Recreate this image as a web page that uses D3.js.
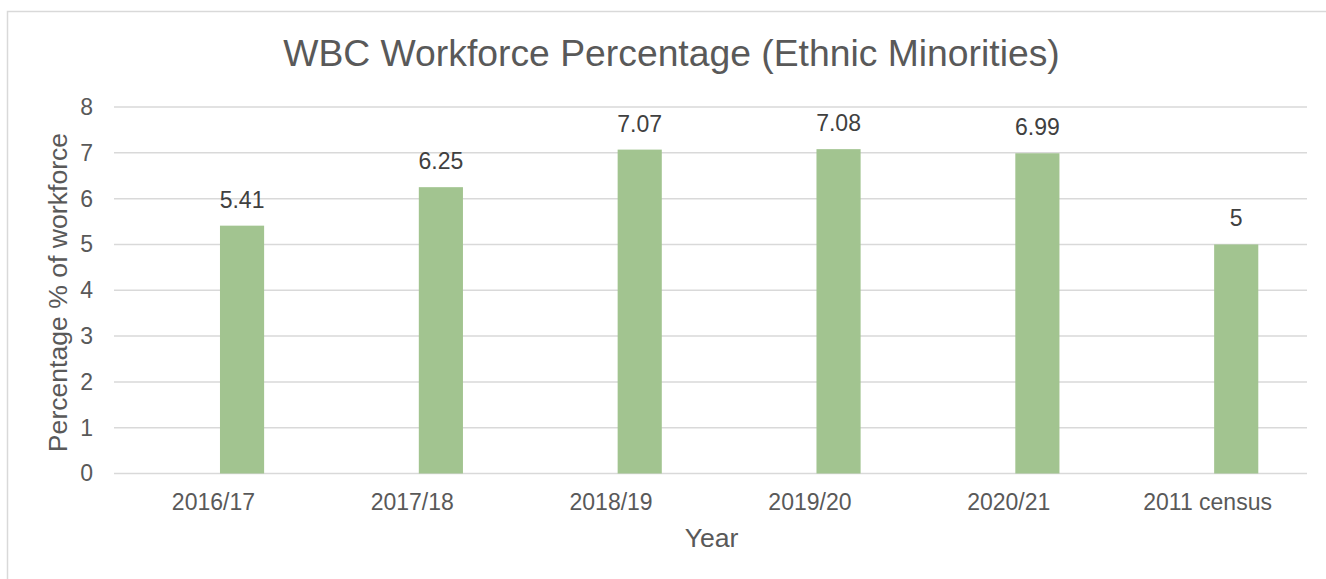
<!DOCTYPE html>
<html>
<head>
<meta charset="UTF-8" />
<title>WBC Workforce Percentage</title>
<script src="https://d3js.org/d3.v7.min.js"></script>
<style>
body { margin: 0; background: white; }
svg text { font-family: "Liberation Sans", Arial, sans-serif; }
</style>
</head>
<body>
<svg id="chart" width="1326" height="579"></svg>
<script>
// chart data
var years = ['2016/17', '2017/18', '2018/19', '2019/20', '2020/21', '2011 census'];
var percents = [5.41, 6.25, 7.07, 7.08, 6.99, 5];
var yTicks = [0, 1, 2, 3, 4, 5, 6, 7, 8];

var svg = d3.select("#chart");
var plotLeft = 114, plotRight = 1307, plotTop = 107, plotBottom = 473.5;

// outer frame
svg.append("rect").attr("x", 7.5).attr("y", 11.5).attr("width", 1340).attr("height", 600)
    .attr("fill", "white").attr("stroke", "#d9d9d9").attr("stroke-width", 1.5);

var x = d3.scaleBand().domain(years).range([plotLeft, plotRight]);
var y = d3.scaleLinear().domain([0, 8]).range([plotBottom, plotTop]);

// gridlines
svg.append("g").selectAll("line").data(yTicks).enter().append("line")
    .attr("x1", plotLeft).attr("x2", plotRight)
    .attr("y1", function(d) { return y(d); }).attr("y2", function(d) { return y(d); })
    .attr("stroke", "#d9d9d9").attr("stroke-width", 1.5);

// y axis labels
var yAxis = svg.append("g").attr("transform", "translate(" + plotLeft + ",0)")
    .call(d3.axisLeft(y).tickValues(yTicks).tickSize(0).tickPadding(21));
yAxis.select(".domain").remove();
yAxis.selectAll("text").attr("font-size", 23).attr("fill", "#595959")
    .attr("font-family", "'Liberation Sans', Arial, sans-serif");

// x axis labels
var xAxis = svg.append("g").attr("transform", "translate(0," + plotBottom + ")")
    .call(d3.axisBottom(x).tickSize(0).tickPadding(20));
xAxis.select(".domain").remove();
xAxis.selectAll("text").attr("font-size", 23).attr("fill", "#595959")
    .attr("font-family", "'Liberation Sans', Arial, sans-serif");

// bars (second series slot of a clustered layout)
var bw = x.bandwidth();
svg.append("g").selectAll("rect").data(percents).enter().append("rect")
    .attr("x", function(d, i) { return x(years[i]) + bw * 0.533; })
    .attr("width", bw * 0.222)
    .attr("y", function(d) { return y(d); })
    .attr("height", function(d) { return y(0) - y(d); })
    .attr("fill", "#a2c490");

// data labels
svg.append("g").selectAll("text").data(percents).enter().append("text")
    .attr("x", function(d, i) { return x(years[i]) + bw * 0.644; })
    .attr("y", function(d) { return y(d) - 18; })
    .attr("text-anchor", "middle").attr("font-size", 23).attr("fill", "#404040")
    .text(function(d) { return d; });

// title
svg.append("text").attr("x", 671.5).attr("y", 66).attr("text-anchor", "middle")
    .attr("font-size", 37.3).attr("fill", "#595959")
    .text("WBC Workforce Percentage (Ethnic Minorities)");

// axis titles
svg.append("text").attr("transform", "translate(67,292.5) rotate(-90)")
    .attr("text-anchor", "middle").attr("font-size", 26.6).attr("fill", "#595959")
    .text("Percentage % of workforce");
svg.append("text").attr("x", 711.5).attr("y", 547).attr("text-anchor", "middle")
    .attr("font-size", 26.6).attr("fill", "#595959")
    .text("Year");
</script>
</body>
</html>
